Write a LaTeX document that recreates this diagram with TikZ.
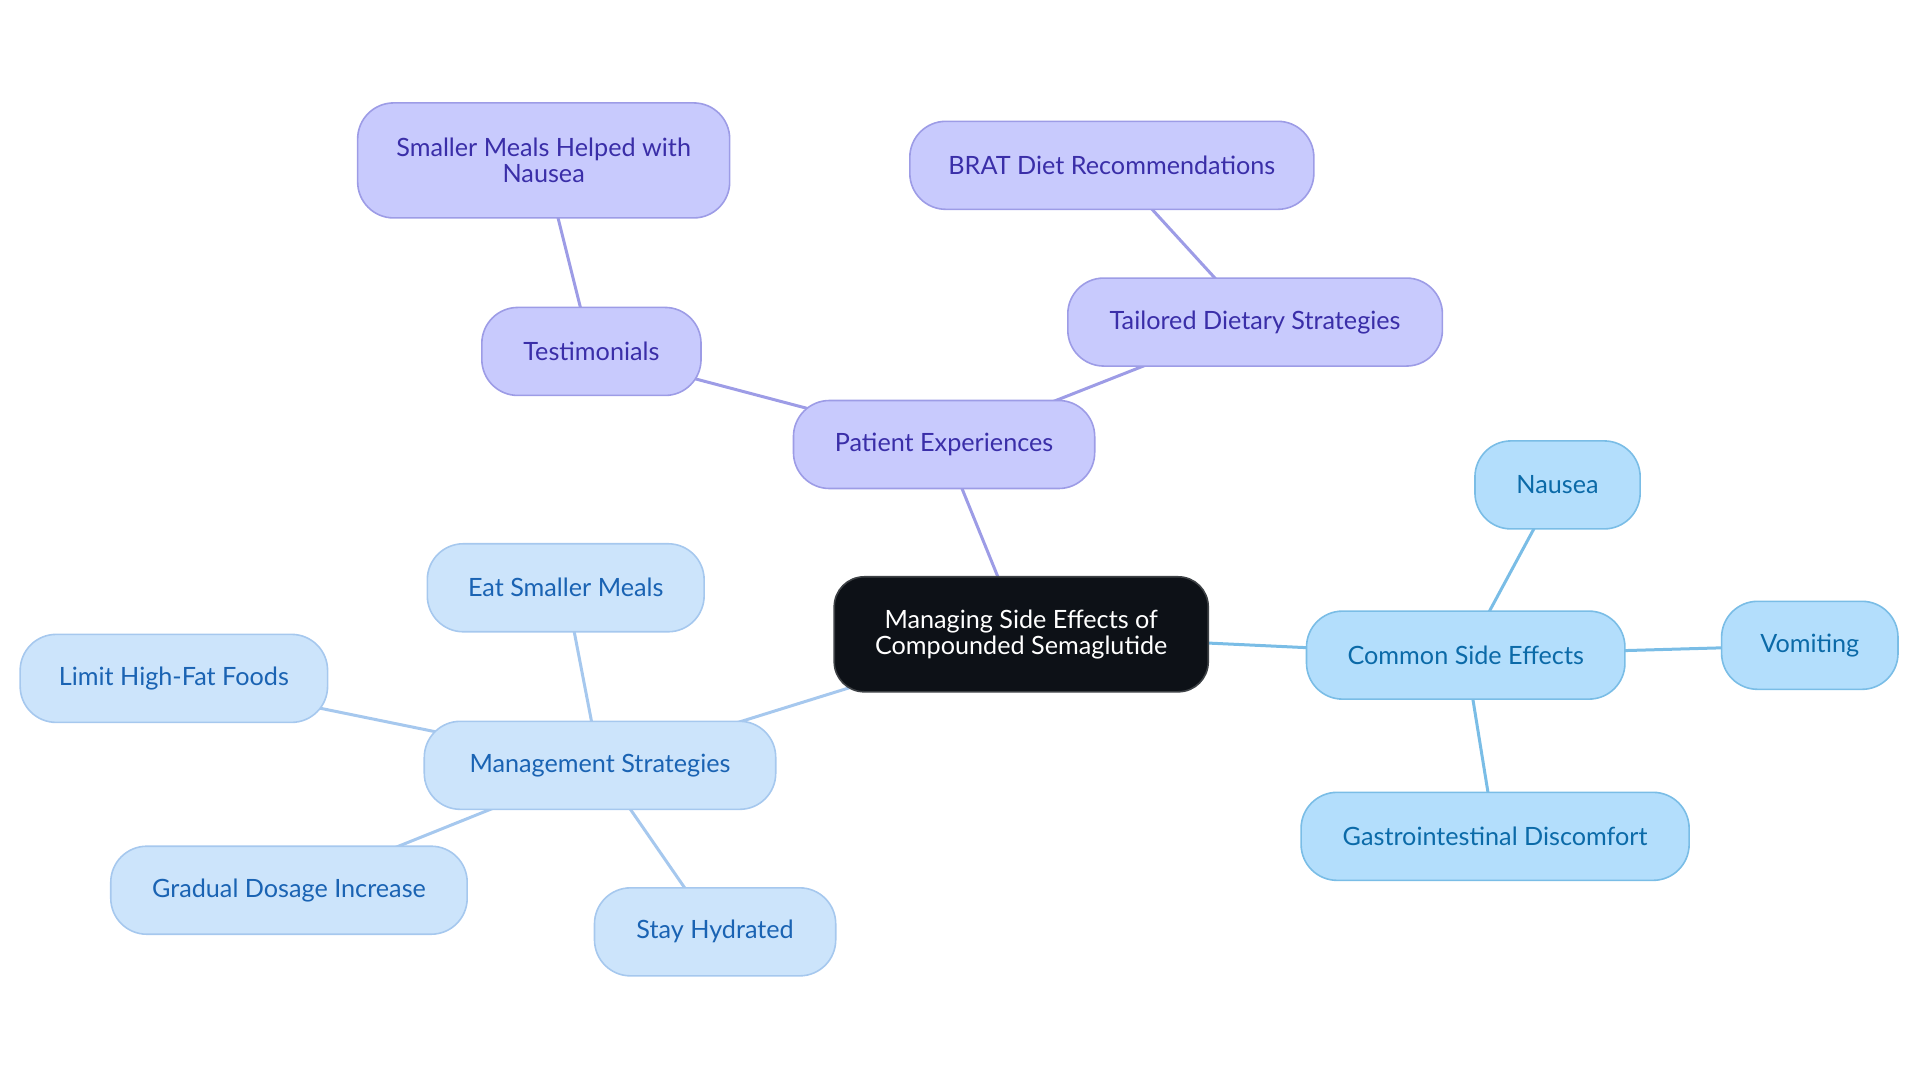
\documentclass[tikz,border=0pt]{standalone}
\usepackage{fontspec}
\setmainfont{Lato}
\usetikzlibrary{backgrounds}
\definecolor{expfill}{HTML}{C8CAFD}
\definecolor{expline}{HTML}{9D9CE6}
\definecolor{exptext}{HTML}{3A2EA8}
\definecolor{mgmtfill}{HTML}{CCE4FB}
\definecolor{mgmtline}{HTML}{A6C8EE}
\definecolor{mgmttext}{HTML}{1A63B3}
\definecolor{sidefill}{HTML}{B3DEFC}
\definecolor{sideline}{HTML}{7ABDE6}
\definecolor{sidetext}{HTML}{0B6AA8}
\definecolor{rootfill}{HTML}{0D1117}
\tikzset{
  box/.style={draw, line width=0.8pt, rounded corners=18pt, minimum height=44pt,
    align=center, inner sep=2pt, font=\fontsize{12.6}{13}\selectfont},
  rootnode/.style={box, fill=rootfill, draw=rootfill!80!white, text=white, rounded corners=15pt, minimum height=57.5pt},
  expnode/.style={box, fill=expfill, draw=expline, text=exptext},
  mgmtnode/.style={box, fill=mgmtfill, draw=mgmtline, text=mgmttext},
  sidenode/.style={box, fill=sidefill, draw=sideline, text=sidetext},
  explink/.style={draw=expline, line width=1.5pt},
  mgmtlink/.style={draw=mgmtline, line width=1.5pt},
  sidelink/.style={draw=sideline, line width=1.5pt}
}
\begin{document}
\begin{tikzpicture}[x=0.6122pt,y=-0.6122pt]
	\useasboundingbox (0,0) rectangle (1568,884.4);
	\node[rootnode, minimum width=187pt] (root) at (834,518) {Managing Side Effects of\\Compounded Semaglutide};
	% patient experiences
	\node[expnode, minimum width=150.6pt] (pe) at (771,363) {Patient Experiences};
	\node[expnode, minimum width=109.6pt] (test) at (483,287) {Testimonials};
	\node[expnode, minimum width=186pt, minimum height=57.5pt] (meals) at (444,131) {Smaller Meals Helped with\\Nausea};
	\node[expnode, minimum width=187.3pt] (diet) at (1025,263) {Tailored Dietary Strategies};
	\node[expnode, minimum width=202pt] (brat) at (908,135) {BRAT Diet Recommendations};
	% common side effects
	\node[sidenode, minimum width=159.2pt] (cse) at (1197,535) {Common Side Effects};
	\node[sidenode, minimum width=82.6pt] (nau) at (1272,396) {Nausea};
	\node[sidenode, minimum width=88.2pt] (vom) at (1478,527) {Vomiting};
	\node[sidenode, minimum width=194pt] (gast) at (1221,683) {Gastrointestinal Discomfort};
	% management strategies
	\node[mgmtnode, minimum width=175.7pt] (ms) at (490,625) {Management Strategies};
	\node[mgmtnode, minimum width=138.4pt] (eat) at (462,480) {Eat Smaller Meals};
	\node[mgmtnode, minimum width=153.7pt] (fat) at (142,554) {Limit High-Fat Foods};
	\node[mgmtnode, minimum width=178.2pt] (dose) at (236,727) {Gradual Dosage Increase};
	\node[mgmtnode, minimum width=120.6pt] (hyd) at (584,761) {Stay Hydrated};
	\begin{scope}[on background layer]
		\path[explink] (root.center) edge (pe.center)
			(pe.center) edge (test.center)
			(test.center) edge (meals.center)
			(pe.center) edge (diet.center)
			(diet.center) edge (brat.center);
		\path[sidelink] (root.center) edge (cse.center)
			(cse.center) edge (nau.center)
			(cse.center) edge (vom.center)
			(cse.center) edge (gast.center);
		\path[mgmtlink] (root.center) edge (ms.center)
			(ms.center) edge (eat.center)
			(ms.center) edge (fat.center)
			(ms.center) edge (dose.center)
			(ms.center) edge (hyd.center);
	\end{scope}
\end{tikzpicture}
\end{document}
